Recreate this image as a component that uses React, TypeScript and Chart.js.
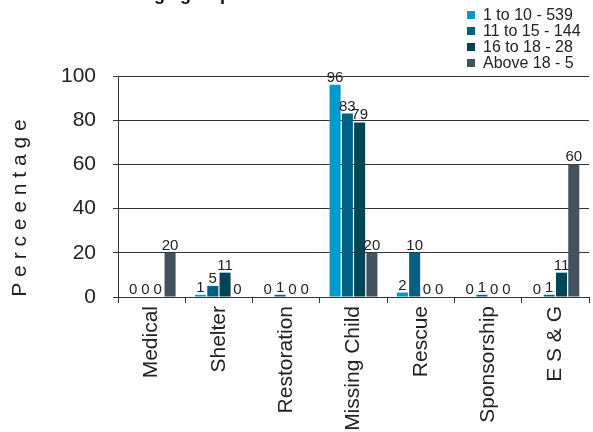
import React, { useEffect, useRef } from "react";
import { Chart, registerables } from "chart.js";

Chart.register(...registerables);

const categories = ["Medical", "Shelter", "Restoration", "Missing Child", "Rescue", "Sponsorship", "E S & G"];
const seriesNames = ["1 to 10 - 539", "11 to 15 - 144", "16 to 18 - 28", "Above 18 - 5"];
const seriesColors = ["#0099cc", "#006182", "#004557", "#44525d"];

const age1to10 = [0, 1, 0, 96, 2, 0, 0];
const age11to15 = [0, 5, 1, 83, 20, 1, 1];
const age16to18 = [0, 11, 0, 79, 0, 0, 11];
const ageAbove18 = [20, 0, 0, 20, 0, 0, 60];

const labels1to10 = ["0", "1", "0", "96", "2", "0", "0"];
const labels11to15 = ["0", "5", "1", "83", "10", "1", "1"];
const labels16to18 = ["0", "11", "0", "79", "0", "0", "11"];
const labelsAbove18 = ["20", "0", "0", "20", "0", "0", "60"];

const yTicks = [0, 20, 40, 60, 80, 100];
const titleText = "Age group and Nature of Cases Attended";
const yTitle = "P e r c e e n t a g e";

const FONT = "'Liberation Sans', Arial, sans-serif";

export default function App() {
  const ref = useRef<HTMLCanvasElement | null>(null);

  useEffect(() => {
    if (!ref.current) return;
    const valueLabels = [labels1to10, labels11to15, labels16to18, labelsAbove18];

    const overlay = {
      id: "overlay",
      afterDatasetsDraw(chart: any) {
        const ctx = chart.ctx;
        ctx.save();
        // value labels
        ctx.font = `15px ${FONT}`;
        ctx.fillStyle = "#222";
        ctx.textAlign = "center";
        ctx.textBaseline = "alphabetic";
        chart.data.datasets.forEach((ds: any, di: number) => {
          const meta = chart.getDatasetMeta(di);
          meta.data.forEach((bar: any, i: number) => {
            ctx.fillText(valueLabels[di][i], bar.x, bar.y - 3);
          });
        });
        // title (cut off at top)
        ctx.font = `bold 18px ${FONT}`;
        ctx.fillStyle = "#111";
        ctx.textAlign = "left";
        ctx.fillText(titleText, 141, 0);
        // y title
        ctx.save();
        ctx.translate(20, 208);
        ctx.rotate(-Math.PI / 2);
        ctx.font = `21px ${FONT}`;
        ctx.fillStyle = "#222";
        ctx.textAlign = "center";
        ctx.textBaseline = "middle";
        ctx.fillText(yTitle, 0, 0);
        ctx.restore();
        // legend
        ctx.font = `16px ${FONT}`;
        ctx.textAlign = "left";
        ctx.textBaseline = "middle";
        chart.data.datasets.forEach((ds: any, di: number) => {
          const y = 15 + di * 16;
          ctx.fillStyle = ds.backgroundColor;
          ctx.fillRect(467, y - 4, 8, 8);
          ctx.fillStyle = "#222";
          ctx.fillText(ds.label, 483, y + 1);
        });
        ctx.restore();
      },
    };

    const chart = new Chart(ref.current, {
      type: "bar",
      data: {
        labels: categories,
        datasets: [age1to10, age11to15, age16to18, ageAbove18].map((d, i) => ({
          label: seriesNames[i],
          data: d,
          backgroundColor: seriesColors[i],
          borderWidth: 0,
          categoryPercentage: 0.73,
          barPercentage: 0.9,
        })),
      },
      options: {
        animation: false,
        responsive: false,
        layout: { padding: { top: 76, right: 4, left: 0, bottom: 0 } },
        plugins: { legend: { display: false }, title: { display: false }, tooltip: { enabled: false } },
        scales: {
          x: {
            grid: { drawOnChartArea: false, drawTicks: true, tickLength: 6, color: "#333", offset: true },
            border: { color: "#333", width: 1 },
            ticks: {
              maxRotation: 90,
              minRotation: 90,
              padding: 3,
              color: "#222",
              font: { family: FONT, size: 21 },
              autoSkip: false,
            },
            afterFit: (s: any) => {
              s.height = 135;
            },
          },
          y: {
            min: 0,
            max: 100,
            afterBuildTicks: (s: any) => {
              s.ticks = yTicks.map((v) => ({ value: v }));
            },
            grid: { color: "#333", tickLength: 5, lineWidth: 1 },
            border: { color: "#333", width: 1 },
            ticks: { padding: 17, color: "#222", font: { family: FONT, size: 21 } },
            afterFit: (s: any) => {
              s.width = 118;
            },
          },
        },
      },
      plugins: [overlay],
    });
    return () => chart.destroy();
  }, []);

  return (
    <div style={{ position: "fixed", left: 0, top: 0, width: 593, height: 432, background: "#fff" }}>
      <canvas ref={ref} width={593} height={432} style={{ width: 593, height: 432 }} />
    </div>
  );
}
